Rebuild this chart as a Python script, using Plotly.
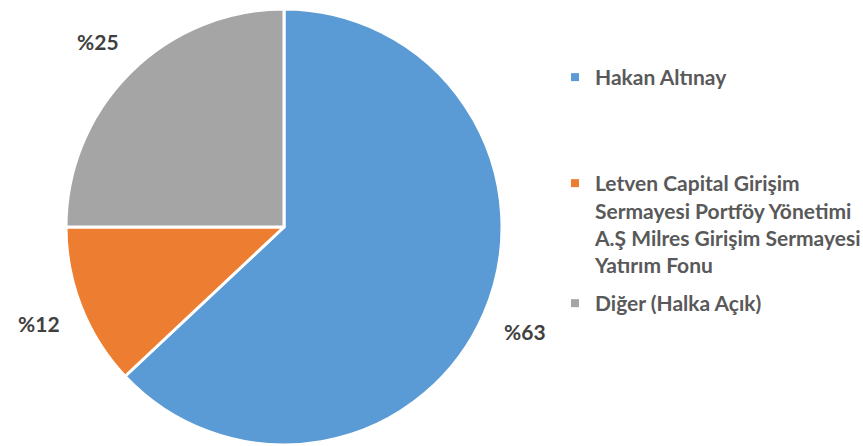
import math
import plotly.graph_objects as go

labels = ["Hakan Altınay",
          "Letven Capital Girişim<br>Sermayesi Portföy Yönetimi<br>A.Ş Milres Girişim Sermayesi<br>Yatırım Fonu",
          "Diğer (Halka Açık)"]
values = [63, 12, 25]
value_labels = ["%63", "%12", "%25"]
colors = ["#5B9BD5", "#ED7D31", "#A5A5A5"]

W, H = 863, 446
cx, cy, r = 284, 227, 218
label_r = 263
font_family = "Lato"

fig = go.Figure()
fig.add_trace(go.Pie(
    labels=labels,
    values=values,
    sort=False,
    direction="clockwise",
    rotation=0,
    marker=dict(colors=colors, line=dict(color="white", width=3)),
    textinfo="none",
    hoverinfo="label+percent",
    domain=dict(x=[(cx - r) / W, (cx + r) / W], y=[(H - cy - r) / H, (H - cy + r) / H]),
    showlegend=False,
))

# value labels placed at the middle angle of each slice, outside the rim
total = sum(values)
acc = 0
for v, txt in zip(values, value_labels):
    mid = (acc + v / 2) / total * 2 * math.pi
    acc += v
    sx = cx + label_r * math.sin(mid)
    sy = cy - label_r * math.cos(mid)
    fig.add_annotation(x=sx / W, y=(H - sy) / H, xref="paper", yref="paper",
                       text=txt, showarrow=False, xanchor="center", yanchor="middle",
                       font=dict(family=font_family, size=21, color="#404040", weight="bold"))

# legend entries (one legend per category so spacing follows the reference)
legend_tops = [57, 163, 283]
legend_ids = ["legend", "legend2", "legend3"]
for lab, col, lid in zip(labels, colors, legend_ids):
    fig.add_trace(go.Scatter(x=[None], y=[None], mode="markers", name=lab,
                             marker=dict(symbol="square", size=8, color=col),
                             legend=lid, showlegend=True, hoverinfo="skip"))

leg_common = dict(xanchor="left", yanchor="top", valign="top", bgcolor="rgba(0,0,0,0)",
                  font=dict(family=font_family, size=21, color="#595959", weight="bold"))
layout_legends = {}
for lid, top in zip(legend_ids, legend_tops):
    layout_legends[lid] = dict(x=555 / W, y=1 - top / H, **leg_common)

fig.update_layout(
    width=W, height=H,
    margin=dict(l=0, r=0, t=0, b=0, autoexpand=False),
    paper_bgcolor="white",
    plot_bgcolor="white",
    font=dict(family=font_family, color="#595959"),
    xaxis=dict(visible=False),
    yaxis=dict(visible=False),
    **layout_legends,
)
fig.write_html("out.html", config={"displayModeBar": False},
               post_script="document.body.style.margin='0';document.body.style.overflow='hidden';")
